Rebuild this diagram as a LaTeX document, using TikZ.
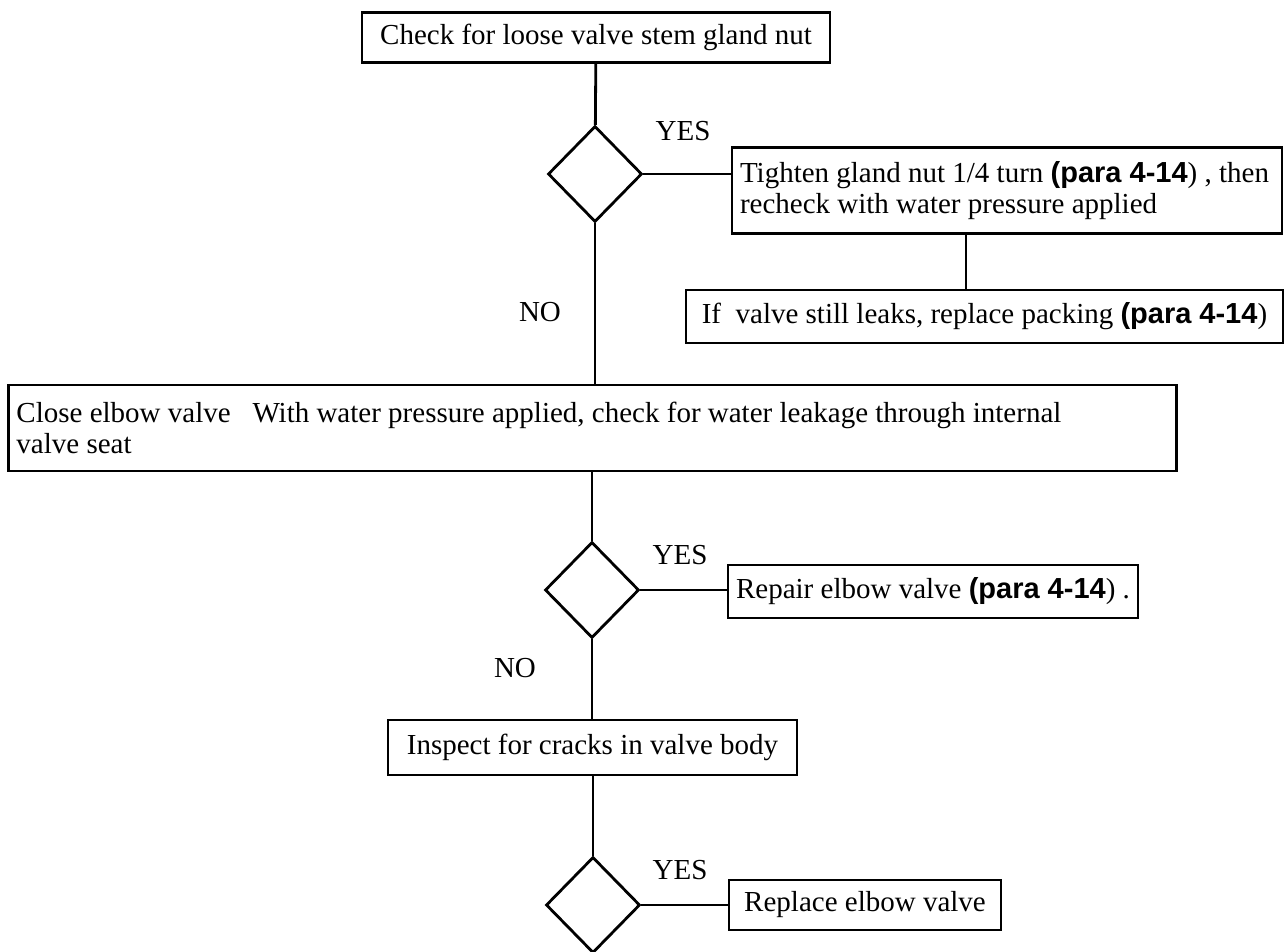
\documentclass[tikz,border=0pt]{standalone}
\usepackage{fontspec}
\setmainfont{Liberation Serif}
\setsansfont{Liberation Sans}
\usetikzlibrary{shapes.geometric, calc}
\newcommand{\pararef}[1]{{\sffamily\bfseries(#1}}
\tikzset{
  sbox/.style={rectangle, draw, line width=1.4pt, inner xsep=4pt, inner ysep=2pt,
               minimum width=#1, align=center},
  tbox/.style={rectangle, draw, line width=1.4pt, inner xsep=4pt, inner ysep=2pt,
               text width=#1, align=flush left},
  dec/.style={diamond, draw, line width=1.4pt, minimum width=47pt, minimum height=48pt,
              inner sep=0pt},
  lbl/.style={inner sep=0pt},
  lnk/.style={line width=1.4pt},
}
\begin{document}
\begin{tikzpicture}[x=0.5pt, y=-0.5pt, every node/.style={font=\fontsize{14.5}{15.5}\selectfont}]
  \useasboundingbox (0,0) rectangle (1286,952);

  % first check
  \node[sbox=234pt, minimum height=25pt] (check) at (596,37.5) {Check for loose valve stem gland nut};
  \node[dec] (d1) at (595,174) {};
  \node[tbox=267pt, minimum height=43pt] (tighten) at (1007,190.5)
    {Tighten gland nut 1/4 turn \pararef{para 4-14}) , then\\recheck with water pressure applied};
  \node[sbox=298.5pt, minimum height=26.5pt] (packing) at (984.5,316.5)
    {If~ valve still leaks, replace packing \pararef{para 4-14})};
  \coordinate (j1) at (966,233);
  \node[lbl] (yes1) at (683,131) {YES};
  \node[lbl] (no1) at (540,312) {NO};

  % internal seat
  \node[tbox=576pt, minimum height=43pt] (close) at (592.5,428)
    {Close elbow valve \ \ With water pressure applied, check for water leakage through internal\\valve seat};
  \node[dec] (d2) at (592,590) {};
  \node[sbox=202pt, minimum height=26.5pt] (repair) at (933,591.5)
    {Repair elbow valve \pararef{para 4-14}) .};
  \node[lbl] (yes2) at (680,555) {YES};
  \node[lbl] (no2) at (515,668) {NO};

  % valve body
  \node[sbox=204.5pt, minimum height=27.5pt] (inspect) at (592.5,747.5) {Inspect for cracks in valve body};
  \node[dec] (d3) at (593,905) {};
  \node[sbox=136pt, minimum height=25pt] (replace) at (865,905) {Replace elbow valve};
  \node[lbl] (yes3) at (680,870) {YES};

  \draw[lnk] (check) -- (d1);
  \draw[lnk] (d1.east) -- (d1.east -| tighten.west);
  \draw[lnk] (j1) -- (j1 |- packing.north);
  \draw[lnk] (d1.south) -- (d1.south |- close.north);
  \draw[lnk] (d2.north |- close.south) -- (d2.north);
  \draw[lnk] (d2.east) -- (d2.east -| repair.west);
  \draw[lnk] (d2.south) -- (d2.south |- inspect.north);
  \draw[lnk] (d3.north |- inspect.south) -- (d3.north);
  \draw[lnk] (d3.east) -- (replace.west);
\end{tikzpicture}
\end{document}
